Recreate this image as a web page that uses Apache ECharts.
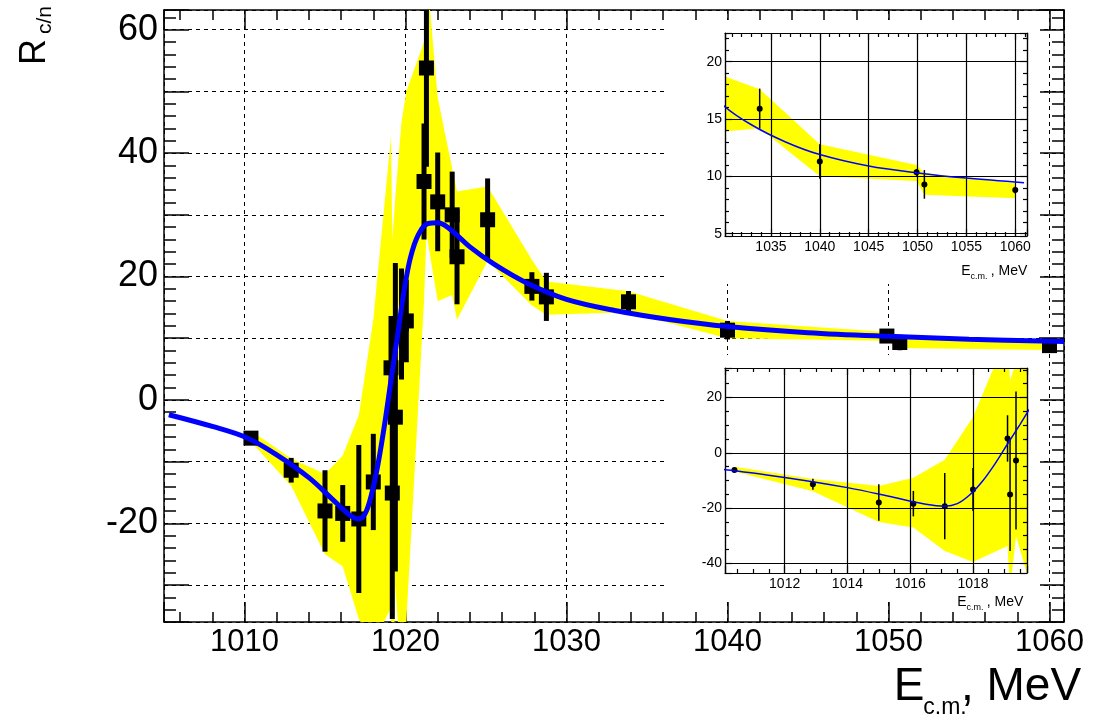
<!DOCTYPE html>
<html>
<head>
<meta charset="utf-8">
<title>R c/n vs E c.m.</title>
<script src="https://cdn.jsdelivr.net/npm/echarts@6.0.0/dist/echarts.min.js"></script>
<style>
  html, body { margin: 0; padding: 0; background: #fff; }
  #chart { width: 1099px; height: 727px; }
</style>
</head>
<body>
<div id="chart"></div>
<script>
// measured points: energy (MeV), ratio and its error
const energy = [1010.4, 1012.9, 1015.0, 1016.1, 1017.1, 1018.0, 1019.1, 1019.18, 1019.37, 1019.75, 1020.05,
  1021.15, 1021.3, 1022.0, 1022.9, 1023.2, 1025.1, 1027.85, 1028.75, 1033.85, 1040.0, 1049.9, 1050.7, 1060.0];
const ratio = [-6.2, -11.4, -18.0, -18.4, -19.3, -13.3, 5.2, -15.1, -2.8, 12.3, 12.8,
  35.4, 53.8, 32.1, 30.0, 23.2, 29.2, 18.4, 16.7, 15.9, 11.3, 10.35, 9.3, 8.8];
const ratioErr = [0.6, 2.0, 6.6, 4.6, 12.0, 7.8, 8.4, 20.4, 25.0, 9.0, 6.7,
  9.4, 16.0, 8.0, 7.0, 7.7, 6.7, 2.3, 3.9, 1.75, 1.5, 0.3, 1.25, 0.3];

// yellow band, lower and upper edge at each energy
const bandLow = [-6.8, -13.9, -25, -27, -35.5, -39.5, -33.7, -50, -30, -45, -36,
  16, 27, 16, 17, 13, 22.5, 15.3, 13.8, 14.2, 10.0, 9.6, 8.4, 8.1];
const bandHigh = [-5.0, -9.5, -12, -9, -2.5, 13, 42.7, 26, 33, 45, 50,
  58, 70, 49, 37.5, 33.8, 34.6, 22.7, 19.2, 17.6, 12.8, 11.0, 10.3, 9.4];

// fitted curve
const fitE = [1005.3, 1008.0, 1010.1, 1012.0, 1014.0, 1015.5, 1016.5, 1017.1, 1017.5, 1017.9,
  1018.3, 1018.7, 1019.1, 1019.5, 1019.9, 1020.3, 1020.8, 1021.4, 1022.0, 1022.8, 1024.0,
  1025.5, 1027.5, 1030.0, 1033.0, 1036.5, 1040.0, 1045.0, 1050.0, 1055.0, 1060.9];
const fitR = [-2.4, -4.3, -6.1, -8.9, -12.6, -16.2, -18.6, -19.3, -18.4, -15.2,
  -10.3, -4.0, 3.2, 10.3, 17.5, 23.0, 26.8, 28.6, 28.7, 27.6, 24.8,
  22.0, 19.0, 16.3, 14.5, 13.0, 11.9, 10.9, 10.3, 9.85, 9.45];

const black = '#000';
const sans = "'Liberation Sans', Arial, sans-serif";

function onStep(step) {
  return function (v) {
    const k = v / step;
    return Math.abs(k - Math.round(k)) < 1e-6 ? String(Math.round(v)) : '';
  };
}

// one axis of a framed plot; ticks point inwards like in ROOT
function makeAxis(o) {
  return {
    type: 'value',
    gridIndex: o.grid,
    position: o.position,
    min: o.min,
    max: o.max,
    splitNumber: o.split,
    z: o.z,
    axisLine: { show: true, onZero: false, lineStyle: { color: black, width: o.lw } },
    axisTick: { show: true, inside: true, length: o.tick, lineStyle: { color: black, width: o.lw } },
    minorTick: { show: true, splitNumber: o.minor, length: o.minorLen, lineStyle: { color: black, width: o.lw } },
    axisLabel: o.label ? Object.assign({ show: true, color: black, hideOverlap: false }, o.label) : { show: false },
    splitLine: o.gridLine ? { show: true, lineStyle: o.gridLine } : { show: false },
    minorSplitLine: { show: false }
  };
}

const dashed = { color: black, width: 1, type: [4, 4] };
const solid = { color: black, width: 1.2 };

const xAxes = [
  makeAxis({ grid: 0, position: 'bottom', min: 1005, max: 1060.9, split: 6, z: 0, lw: 1.5, tick: 20, minor: 5, minorLen: 10,
    label: { formatter: onStep(10), fontFamily: sans, fontSize: 31, margin: 5 }, gridLine: dashed }),
  makeAxis({ grid: 0, position: 'top', min: 1005, max: 1060.9, split: 6, z: 0, lw: 1.5, tick: 20, minor: 5, minorLen: 10 }),
  makeAxis({ grid: 1, position: 'bottom', min: 1030.3, max: 1061.2, split: 6, z: 6, lw: 1.2, tick: 7, minor: 5, minorLen: 4,
    label: { formatter: onStep(5), fontFamily: sans, fontSize: 14, margin: 4 }, gridLine: solid }),
  makeAxis({ grid: 1, position: 'top', min: 1030.3, max: 1061.2, split: 6, z: 6, lw: 1.2, tick: 7, minor: 5, minorLen: 4 }),
  makeAxis({ grid: 2, position: 'bottom', min: 1010.1, max: 1019.72, split: 5, z: 6, lw: 1.2, tick: 7, minor: 4, minorLen: 4,
    label: { formatter: onStep(2), fontFamily: sans, fontSize: 14, margin: 4 }, gridLine: solid }),
  makeAxis({ grid: 2, position: 'top', min: 1010.1, max: 1019.72, split: 5, z: 6, lw: 1.2, tick: 7, minor: 4, minorLen: 4 })
];

const yAxes = [
  makeAxis({ grid: 0, position: 'left', min: -36, max: 63.2, split: 10, z: 0, lw: 1.5, tick: 25, minor: 5, minorLen: 12,
    label: { formatter: onStep(20), fontFamily: sans, fontSize: 36, margin: 6 }, gridLine: dashed }),
  makeAxis({ grid: 0, position: 'right', min: -36, max: 63.2, split: 10, z: 0, lw: 1.5, tick: 25, minor: 5, minorLen: 12 }),
  makeAxis({ grid: 1, position: 'left', min: 4.8, max: 22.5, split: 4, z: 6, lw: 1.2, tick: 7, minor: 5, minorLen: 4,
    label: { formatter: onStep(5), fontFamily: sans, fontSize: 14, margin: 3 }, gridLine: solid }),
  makeAxis({ grid: 1, position: 'right', min: 4.8, max: 22.5, split: 4, z: 6, lw: 1.2, tick: 7, minor: 5, minorLen: 4 }),
  makeAxis({ grid: 2, position: 'left', min: -43.5, max: 30.7, split: 4, z: 6, lw: 1.2, tick: 7, minor: 4, minorLen: 4,
    label: { formatter: onStep(20), fontFamily: sans, fontSize: 14, margin: 3 }, gridLine: solid }),
  makeAxis({ grid: 2, position: 'right', min: -43.5, max: 30.7, split: 4, z: 6, lw: 1.2, tick: 7, minor: 4, minorLen: 4 })
];

function clipRect(params) {
  const cs = params.coordSys;
  return { type: 'rect', shape: { x: cs.x, y: cs.y, width: cs.width, height: cs.height } };
}

function bandSeries(g, z) {
  return {
    type: 'custom', xAxisIndex: 2 * g, yAxisIndex: 2 * g, z: z, silent: true,
    data: [[energy[0], ratio[0]]],
    renderItem: function (params, api) {
      const pts = [];
      for (let i = 0; i < energy.length; i++) pts.push(api.coord([energy[i], bandHigh[i]]));
      for (let i = energy.length - 1; i >= 0; i--) pts.push(api.coord([energy[i], bandLow[i]]));
      return { type: 'polygon', shape: { points: pts }, style: { fill: '#ffff00' }, clipPath: clipRect(params) };
    }
  };
}

function errorSeries(g, z, width) {
  return {
    type: 'custom', xAxisIndex: 2 * g, yAxisIndex: 2 * g, z: z, silent: true,
    data: energy.map((e, i) => [e, ratio[i], ratioErr[i]]),
    renderItem: function (params, api) {
      const lo = api.coord([api.value(0), api.value(1) - api.value(2)]);
      const hi = api.coord([api.value(0), api.value(1) + api.value(2)]);
      return {
        type: 'line', shape: { x1: lo[0], y1: lo[1], x2: hi[0], y2: hi[1] },
        style: { stroke: black, lineWidth: width }, clipPath: clipRect(params)
      };
    }
  };
}

function markerSeries(g, z, symbol, size) {
  return {
    type: 'scatter', xAxisIndex: 2 * g, yAxisIndex: 2 * g, z: z, silent: true,
    symbol: symbol, symbolSize: size, itemStyle: { color: black, opacity: 1 },
    data: energy.map((e, i) => [e, ratio[i]])
  };
}

function fitSeries(g, z, width) {
  return {
    type: 'line', xAxisIndex: 2 * g, yAxisIndex: 2 * g, z: z, silent: true,
    showSymbol: false, smooth: 0.35,
    lineStyle: { color: '#0000ff', width: width },
    data: fitE.map((e, i) => [e, fitR[i]])
  };
}

const series = [
  bandSeries(0, 2), errorSeries(0, 3, 5), markerSeries(0, 4, 'rect', 15), fitSeries(0, 5, 5),
  bandSeries(1, 5), errorSeries(1, 7, 1.5), markerSeries(1, 8, 'circle', 6), fitSeries(1, 9, 1.5),
  bandSeries(2, 5), errorSeries(2, 7, 1.5), markerSeries(2, 8, 'circle', 6), fitSeries(2, 9, 1.5)
];

function txt(x, y, text, size, extra) {
  return Object.assign({
    type: 'text', x: x, y: y, z: 100, silent: true,
    style: {
      text: text, fill: black, fontSize: size, fontFamily: sans,
      align: 'center', verticalAlign: 'middle', textAlign: 'center', textVerticalAlign: 'middle'
    }
  }, extra || {});
}

// white pads behind the two insets hide the big plot's grid there
function pad(x, y, w, h) {
  return { type: 'rect', z: 1, silent: true, shape: { x: x, y: y, width: w, height: h }, style: { fill: '#fff' } };
}

const chart = echarts.init(document.getElementById('chart'));
chart.setOption({
  animation: false,
  backgroundColor: '#fff',
  grid: [
    { left: 164, top: 10, width: 900, height: 612, show: false, z: 0 },
    { left: 725, top: 33, width: 302, height: 203, show: true, backgroundColor: '#fff', borderWidth: 0, z: 4 },
    { left: 725, top: 368, width: 302, height: 205, show: true, backgroundColor: '#fff', borderWidth: 0, z: 4 }
  ],
  xAxis: xAxes,
  yAxis: yAxes,
  series: series,
  graphic: [
    pad(666, 20, 374, 264),
    pad(666, 355, 374, 245),
    txt(35, 52, 'R', 36, { rotation: Math.PI / 2 }),
    txt(45, 20, 'c/n', 21, { rotation: Math.PI / 2 }),
    txt(909, 687, 'E', 46),
    txt(945, 708, 'c.m.', 23),
    txt(1021, 687, ', MeV', 46),
    txt(966, 271, 'E', 14),
    txt(979, 277, 'c.m.', 9),
    txt(1009, 271, ', MeV', 14),
    txt(962, 602, 'E', 14),
    txt(975, 608, 'c.m.', 9),
    txt(1005, 602, ', MeV', 14)
  ]
});
</script>
</body>
</html>
